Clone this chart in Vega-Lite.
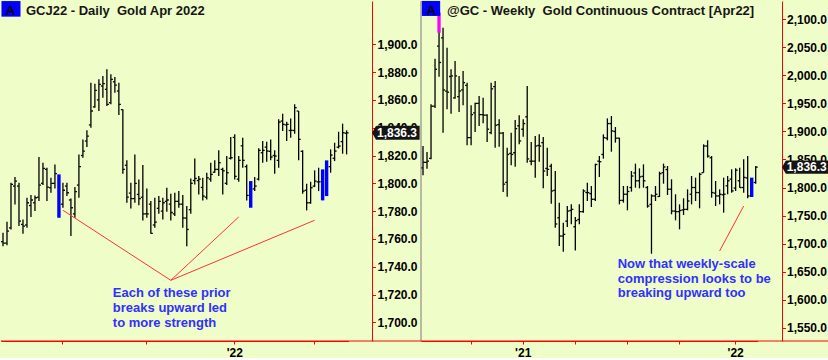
{
"$schema": "https://vega.github.io/schema/vega-lite/v6.json",
"background": "#effdc8",
"padding": 0,
"spacing": 49,
"bounds": "flush",
"config": {
  "view": {"stroke": null},
  "font": "Liberation Sans",
  "axis": {"labelFont": "Liberation Sans", "labelFontSize": 12, "labelFontWeight": "bold", "labelColor": "#000000", "domainColor": "#ff0000", "tickColor": "#ff0000", "grid": false, "domainWidth": 1, "tickWidth": 1, "labelOverlap": false}
},
"datasets": {
  "daily": [
    {"d":"2021-10-11","o":1758,"h":1764.4,"l":1754.8,"c":1757,"p":"n"},
    {"d":"2021-10-12","o":1757,"h":1772.3,"l":1755.5,"c":1765.6,"p":"n"},
    {"d":"2021-10-13","o":1768,"h":1800.4,"l":1766.8,"c":1799.2,"p":"n"},
    {"d":"2021-10-14","o":1798,"h":1804.5,"l":1784.8,"c":1801.6,"p":"n"},
    {"d":"2021-10-15","o":1798,"h":1800.4,"l":1769.2,"c":1772.8,"p":"n"},
    {"d":"2021-10-18","o":1770.4,"h":1774,"l":1763.7,"c":1769.2,"p":"n"},
    {"d":"2021-10-19","o":1770,"h":1789.6,"l":1768,"c":1786,"p":"n"},
    {"d":"2021-10-20","o":1784,"h":1791.5,"l":1775.7,"c":1788,"p":"n"},
    {"d":"2021-10-21","o":1786,"h":1791.3,"l":1780,"c":1789.6,"p":"n"},
    {"d":"2021-10-22","o":1790,"h":1818.9,"l":1787.2,"c":1798.7,"p":"n"},
    {"d":"2021-10-25","o":1800,"h":1814.8,"l":1798.7,"c":1810.7,"p":"n"},
    {"d":"2021-10-26","o":1810,"h":1811.2,"l":1787.2,"c":1797.3,"p":"n"},
    {"d":"2021-10-27","o":1796.8,"h":1804,"l":1793.2,"c":1800,"p":"n"},
    {"d":"2021-10-28","o":1800,"h":1813.6,"l":1796.3,"c":1806.9,"p":"n"},
    {"d":"2021-10-29","o":1805,"h":1806.4,"l":1775.2,"c":1778,"p":"b"},
    {"d":"2021-11-01","o":1785,"h":1800.4,"l":1782.4,"c":1795,"p":"n"},
    {"d":"2021-11-02","o":1798,"h":1800.4,"l":1790.8,"c":1793.2,"p":"n"},
    {"d":"2021-11-03","o":1788,"h":1789.1,"l":1762,"c":1782.4,"p":"n"},
    {"d":"2021-11-04","o":1778,"h":1797.3,"l":1775.2,"c":1794,"p":"n"},
    {"d":"2021-11-05","o":1798.7,"h":1820.8,"l":1789.6,"c":1812,"p":"n"},
    {"d":"2021-11-08","o":1820,"h":1831.6,"l":1818.4,"c":1823.2,"p":"n"},
    {"d":"2021-11-09","o":1830.4,"h":1838.1,"l":1826.1,"c":1834,"p":"n"},
    {"d":"2021-11-10","o":1842,"h":1872.4,"l":1840,"c":1852,"p":"n"},
    {"d":"2021-11-11","o":1855,"h":1871.7,"l":1854.4,"c":1866.9,"p":"n"},
    {"d":"2021-11-12","o":1860,"h":1874.8,"l":1852,"c":1871.2,"p":"n"},
    {"d":"2021-11-15","o":1870,"h":1877.2,"l":1861.6,"c":1871.7,"p":"n"},
    {"d":"2021-11-16","o":1867.6,"h":1882,"l":1855.6,"c":1856.8,"p":"n"},
    {"d":"2021-11-17","o":1858,"h":1878.4,"l":1856.8,"c":1874.8,"p":"n"},
    {"d":"2021-11-18","o":1873,"h":1876.5,"l":1865.2,"c":1870.7,"p":"n"},
    {"d":"2021-11-19","o":1866.4,"h":1872.4,"l":1849.1,"c":1856.8,"p":"n"},
    {"d":"2021-11-22","o":1853,"h":1853.2,"l":1806.9,"c":1810,"p":"n"},
    {"d":"2021-11-23","o":1813,"h":1816.5,"l":1786,"c":1790,"p":"n"},
    {"d":"2021-11-24","o":1793,"h":1800.4,"l":1781.9,"c":1789,"p":"n"},
    {"d":"2021-11-26","o":1789,"h":1820.8,"l":1786,"c":1800,"p":"n"},
    {"d":"2021-11-29","o":1792,"h":1802.8,"l":1784.3,"c":1789,"p":"n"},
    {"d":"2021-11-30","o":1790,"h":1813.1,"l":1773.3,"c":1778,"p":"n"},
    {"d":"2021-12-01","o":1778,"h":1796.3,"l":1775.2,"c":1778,"p":"n"},
    {"d":"2021-12-02","o":1785,"h":1787.2,"l":1763.7,"c":1764,"p":"n"},
    {"d":"2021-12-03","o":1770,"h":1789.6,"l":1768,"c":1772,"p":"n"},
    {"d":"2021-12-06","o":1782,"h":1790.8,"l":1778.1,"c":1787,"p":"n"},
    {"d":"2021-12-07","o":1780,"h":1789.6,"l":1774,"c":1786,"p":"n"},
    {"d":"2021-12-08","o":1787,"h":1796.8,"l":1779.5,"c":1788,"p":"n"},
    {"d":"2021-12-09","o":1785,"h":1792.5,"l":1773.3,"c":1779,"p":"n"},
    {"d":"2021-12-10","o":1778,"h":1793.2,"l":1776.4,"c":1787,"p":"n"},
    {"d":"2021-12-13","o":1787,"h":1794.4,"l":1782.4,"c":1785,"p":"n"},
    {"d":"2021-12-14","o":1785,"h":1791.5,"l":1768,"c":1775,"p":"n"},
    {"d":"2021-12-15","o":1775,"h":1783.6,"l":1754.8,"c":1766.8,"p":"n"},
    {"d":"2021-12-16","o":1781,"h":1803.5,"l":1778.1,"c":1800,"p":"n"},
    {"d":"2021-12-17","o":1802,"h":1817.9,"l":1799.2,"c":1803.5,"p":"n"},
    {"d":"2021-12-20","o":1802,"h":1805.2,"l":1792,"c":1803,"p":"n"},
    {"d":"2021-12-21","o":1797,"h":1804,"l":1787.7,"c":1790.8,"p":"n"},
    {"d":"2021-12-22","o":1790,"h":1807.6,"l":1788.4,"c":1804,"p":"n"},
    {"d":"2021-12-23","o":1803,"h":1814.8,"l":1801.1,"c":1806.4,"p":"n"},
    {"d":"2021-12-27","o":1808,"h":1816.5,"l":1807.6,"c":1810,"p":"n"},
    {"d":"2021-12-28","o":1810,"h":1823.7,"l":1805.2,"c":1814.8,"p":"n"},
    {"d":"2021-12-29","o":1810,"h":1811.2,"l":1792,"c":1809,"p":"n"},
    {"d":"2021-12-30","o":1800,"h":1819.6,"l":1798.7,"c":1807.6,"p":"n"},
    {"d":"2021-12-31","o":1818,"h":1833.3,"l":1817.2,"c":1818.4,"p":"n"},
    {"d":"2022-01-03","o":1833,"h":1835.2,"l":1802.8,"c":1805,"p":"n"},
    {"d":"2022-01-04","o":1803,"h":1819.6,"l":1801.1,"c":1816.5,"p":"n"},
    {"d":"2022-01-05","o":1827,"h":1832.8,"l":1811.2,"c":1816.5,"p":"n"},
    {"d":"2022-01-06","o":1812,"h":1813.6,"l":1787.7,"c":1791.3,"p":"n"},
    {"d":"2022-01-07","o":1800,"h":1801.6,"l":1782.4,"c":1784,"p":"b"},
    {"d":"2022-01-10","o":1796,"h":1804.5,"l":1794.4,"c":1798,"p":"n"},
    {"d":"2022-01-11","o":1803,"h":1825.2,"l":1802.1,"c":1823.7,"p":"n"},
    {"d":"2022-01-12","o":1822,"h":1830.4,"l":1814.8,"c":1823.7,"p":"n"},
    {"d":"2022-01-13","o":1826,"h":1829.9,"l":1815.5,"c":1823.2,"p":"n"},
    {"d":"2022-01-14","o":1823,"h":1831.6,"l":1816.5,"c":1818.9,"p":"n"},
    {"d":"2022-01-18","o":1820,"h":1823.7,"l":1806.9,"c":1819.6,"p":"n"},
    {"d":"2022-01-19","o":1816.5,"h":1846,"l":1811.2,"c":1844,"p":"n"},
    {"d":"2022-01-20","o":1844.8,"h":1850.1,"l":1837.6,"c":1842.4,"p":"n"},
    {"d":"2022-01-21","o":1842,"h":1844.3,"l":1830.4,"c":1842.4,"p":"n"},
    {"d":"2022-01-24","o":1838,"h":1846.7,"l":1832.8,"c":1838.1,"p":"n"},
    {"d":"2022-01-25","o":1838,"h":1856.8,"l":1835.7,"c":1854.4,"p":"n"},
    {"d":"2022-01-26","o":1852,"h":1852,"l":1816.5,"c":1831.6,"p":"n"},
    {"d":"2022-01-27","o":1823,"h":1823.7,"l":1792.5,"c":1794.4,"p":"n"},
    {"d":"2022-01-28","o":1795,"h":1799.7,"l":1780.5,"c":1786,"p":"n"},
    {"d":"2022-01-31","o":1786,"h":1801.1,"l":1785.3,"c":1796.8,"p":"n"},
    {"d":"2022-02-01","o":1798,"h":1809.3,"l":1797.3,"c":1801.6,"p":"n"},
    {"d":"2022-02-02","o":1801,"h":1811.2,"l":1794.4,"c":1801.1,"p":"n"},
    {"d":"2022-02-03","o":1790,"h":1810,"l":1787.7,"c":1808,"p":"b"},
    {"d":"2022-02-04","o":1792,"h":1816.5,"l":1790.8,"c":1815,"p":"b"},
    {"d":"2022-02-07","o":1812,"h":1824.4,"l":1807.6,"c":1820.3,"p":"n"},
    {"d":"2022-02-08","o":1818,"h":1829.2,"l":1816,"c":1823.2,"p":"n"},
    {"d":"2022-02-09","o":1826,"h":1837.1,"l":1825.1,"c":1826.8,"p":"n"},
    {"d":"2022-02-10","o":1830,"h":1842.9,"l":1821.3,"c":1836.4,"p":"n"},
    {"d":"2022-02-11","o":1836,"h":1838.1,"l":1820.8,"c":1836.3,"p":"n"}
  ],
  "weekly": [
    {"d":"2020-07-10","o":1835,"h":1874,"l":1821.7,"c":1845,"p":"n"},
    {"d":"2020-07-17","o":1845,"h":1863.3,"l":1833.6,"c":1847,"p":"n"},
    {"d":"2020-07-24","o":1852,"h":1948.4,"l":1850.3,"c":1945,"p":"n"},
    {"d":"2020-07-31","o":1945,"h":2029.8,"l":1942,"c":2010.8,"p":"n"},
    {"d":"2020-08-07","o":2052,"h":2089,"l":1997.7,"c":2023,"p":"n"},
    {"d":"2020-08-14","o":2067,"h":2085.1,"l":1897.8,"c":1974,"p":"n"},
    {"d":"2020-08-21","o":1972,"h":2049.4,"l":1939.4,"c":1970,"p":"n"},
    {"d":"2020-08-28","o":1998,"h":2010.8,"l":1931.7,"c":1999,"p":"n"},
    {"d":"2020-09-04","o":1960,"h":2025.6,"l":1958.5,"c":1999,"p":"n"},
    {"d":"2020-09-11","o":1962,"h":1998.9,"l":1934.7,"c":1972,"p":"n"},
    {"d":"2020-09-18","o":1974,"h":2007.8,"l":1946.6,"c":1987,"p":"n"},
    {"d":"2020-09-25","o":1982,"h":1987,"l":1875.2,"c":1889,"p":"n"},
    {"d":"2020-10-02","o":1889,"h":1946.6,"l":1875.2,"c":1930,"p":"n"},
    {"d":"2020-10-09","o":1933,"h":1951.3,"l":1899,"c":1950,"p":"n"},
    {"d":"2020-10-16","o":1950,"h":1963.2,"l":1909.7,"c":1930,"p":"n"},
    {"d":"2020-10-23","o":1930,"h":1960.2,"l":1914.5,"c":1929,"p":"n"},
    {"d":"2020-10-30","o":1929,"h":1930.5,"l":1881.2,"c":1904,"p":"n"},
    {"d":"2020-11-06","o":1898,"h":1987,"l":1894.9,"c":1976,"p":"n"},
    {"d":"2020-11-13","o":1980,"h":1990,"l":1871.1,"c":1911,"p":"n"},
    {"d":"2020-11-20","o":1912,"h":1921.6,"l":1872.9,"c":1897,"p":"n"},
    {"d":"2020-11-27","o":1897,"h":1899,"l":1792,"c":1806,"p":"n"},
    {"d":"2020-12-04","o":1809,"h":1871.1,"l":1783.7,"c":1859,"p":"n"},
    {"d":"2020-12-11","o":1861,"h":1897.8,"l":1839.6,"c":1859,"p":"n"},
    {"d":"2020-12-18","o":1862,"h":1920.4,"l":1837.2,"c":1905,"p":"n"},
    {"d":"2020-12-25","o":1910,"h":1928.7,"l":1877,"c":1883,"p":"n"},
    {"d":"2021-01-01","o":1904,"h":1921.6,"l":1890.7,"c":1914,"p":"n"},
    {"d":"2021-01-08","o":1926,"h":1981,"l":1844.3,"c":1851,"p":"n"},
    {"d":"2021-01-15","o":1847,"h":1881.2,"l":1839.6,"c":1847,"p":"n"},
    {"d":"2021-01-22","o":1847,"h":1891.9,"l":1817.6,"c":1874,"p":"n"},
    {"d":"2021-01-29","o":1875,"h":1894.8,"l":1846.1,"c":1874,"p":"n"},
    {"d":"2021-02-05","o":1880,"h":1890.1,"l":1798.5,"c":1829.4,"p":"n"},
    {"d":"2021-02-12","o":1834,"h":1871,"l":1820.5,"c":1832.4,"p":"n"},
    {"d":"2021-02-19","o":1838,"h":1842.5,"l":1771.2,"c":1793.8,"p":"n"},
    {"d":"2021-02-26","o":1795,"h":1829.4,"l":1728.4,"c":1735,"p":"n"},
    {"d":"2021-03-05","o":1746,"h":1772.9,"l":1695.7,"c":1713.5,"p":"n"},
    {"d":"2021-03-12","o":1713.5,"h":1737.3,"l":1685.6,"c":1716.5,"p":"n"},
    {"d":"2021-03-19","o":1740,"h":1767,"l":1729.6,"c":1758,"p":"n"},
    {"d":"2021-03-26","o":1759,"h":1770,"l":1734.3,"c":1761,"p":"n"},
    {"d":"2021-04-02","o":1730,"h":1747.4,"l":1687.9,"c":1741,"p":"n"},
    {"d":"2021-04-09","o":1743,"h":1770,"l":1734.3,"c":1757,"p":"n"},
    {"d":"2021-04-16","o":1757,"h":1796.7,"l":1755.1,"c":1793.8,"p":"n"},
    {"d":"2021-04-23","o":1791,"h":1808.6,"l":1775.9,"c":1791,"p":"n"},
    {"d":"2021-04-30","o":1789,"h":1802.7,"l":1765.2,"c":1779,"p":"n"},
    {"d":"2021-05-07","o":1779,"h":1842.5,"l":1775.9,"c":1841,"p":"n"},
    {"d":"2021-05-14","o":1847,"h":1856.2,"l":1818.7,"c":1846,"p":"n"},
    {"d":"2021-05-21","o":1859,"h":1894.8,"l":1851.4,"c":1889,"p":"n"},
    {"d":"2021-05-28","o":1888,"h":1923.3,"l":1884.1,"c":1914,"p":"n"},
    {"d":"2021-06-04","o":1914,"h":1927.5,"l":1863.9,"c":1901,"p":"n"},
    {"d":"2021-06-11","o":1900,"h":1907.9,"l":1880,"c":1888,"p":"n"},
    {"d":"2021-06-18","o":1888,"h":1888.9,"l":1770,"c":1777,"p":"n"},
    {"d":"2021-06-25","o":1777,"h":1802.7,"l":1773,"c":1788,"p":"n"},
    {"d":"2021-07-02","o":1788,"h":1802.7,"l":1759.3,"c":1793,"p":"n"},
    {"d":"2021-07-09","o":1800,"h":1829.4,"l":1792.6,"c":1820.5,"p":"n"},
    {"d":"2021-07-16","o":1826,"h":1842.5,"l":1799.7,"c":1812,"p":"n"},
    {"d":"2021-07-23","o":1812,"h":1834.2,"l":1798.5,"c":1819,"p":"n"},
    {"d":"2021-07-30","o":1820,"h":1841.3,"l":1799.7,"c":1812,"p":"n"},
    {"d":"2021-08-06","o":1800,"h":1802.7,"l":1764,"c":1767,"p":"n"},
    {"d":"2021-08-13","o":1770,"h":1787.8,"l":1682,"c":1785,"p":"n"},
    {"d":"2021-08-20","o":1785,"h":1802.7,"l":1776,"c":1788,"p":"n"},
    {"d":"2021-08-27","o":1784,"h":1828.3,"l":1783.1,"c":1824.7,"p":"n"},
    {"d":"2021-09-03","o":1826.5,"h":1842.6,"l":1806.9,"c":1836.6,"p":"n"},
    {"d":"2021-09-10","o":1832,"h":1838.4,"l":1786.7,"c":1797,"p":"n"},
    {"d":"2021-09-17","o":1797,"h":1814.6,"l":1752.2,"c":1758,"p":"n"},
    {"d":"2021-09-24","o":1758,"h":1787.9,"l":1741.5,"c":1757,"p":"n"},
    {"d":"2021-10-01","o":1757,"h":1770,"l":1725.4,"c":1759,"p":"n"},
    {"d":"2021-10-08","o":1760,"h":1780.7,"l":1751,"c":1761,"p":"n"},
    {"d":"2021-10-15","o":1761,"h":1796.8,"l":1759.3,"c":1776,"p":"n"},
    {"d":"2021-10-22","o":1788,"h":1820.6,"l":1770,"c":1800,"p":"n"},
    {"d":"2021-10-29","o":1800,"h":1817.6,"l":1776,"c":1791,"p":"n"},
    {"d":"2021-11-05","o":1791,"h":1826.5,"l":1762.9,"c":1823.5,"p":"n"},
    {"d":"2021-11-12","o":1826.5,"h":1877,"l":1826.5,"c":1874,"p":"n"},
    {"d":"2021-11-19","o":1874,"h":1884.2,"l":1853.3,"c":1856,"p":"n"},
    {"d":"2021-11-26","o":1853,"h":1856.2,"l":1781.9,"c":1791,"p":"n"},
    {"d":"2021-12-03","o":1790,"h":1811.6,"l":1767,"c":1785,"p":"n"},
    {"d":"2021-12-10","o":1785,"h":1796.8,"l":1770,"c":1788,"p":"n"},
    {"d":"2021-12-17","o":1787,"h":1817.6,"l":1755.2,"c":1788,"p":"n"},
    {"d":"2021-12-24","o":1803,"h":1820.6,"l":1787.9,"c":1812,"p":"n"},
    {"d":"2021-12-31","o":1815,"h":1832.5,"l":1790.8,"c":1794,"p":"n"},
    {"d":"2022-01-07","o":1799,"h":1834.2,"l":1793.8,"c":1831,"p":"n"},
    {"d":"2022-01-14","o":1812,"h":1835.4,"l":1799.8,"c":1800,"p":"n"},
    {"d":"2022-01-21","o":1800,"h":1850.3,"l":1790.8,"c":1818,"p":"n"},
    {"d":"2022-01-28","o":1817,"h":1856.2,"l":1780.7,"c":1785,"p":"n"},
    {"d":"2022-02-04","o":1785,"h":1817.6,"l":1783.1,"c":1815,"p":"b"},
    {"d":"2022-02-11","o":1809,"h":1838.4,"l":1806.9,"c":1836.3,"p":"n"}
  ],
  "annL": [
    {"d":"2021-11-01","v":1780.6,"g":"a"},{"d":"2021-12-09","v":1730.2,"g":"a"},
    {"d":"2021-12-09","v":1730.2,"g":"b"},{"d":"2022-01-04","v":1775.8,"g":"b"},
    {"d":"2021-12-09","v":1730.2,"g":"c"},{"d":"2022-02-01","v":1773.4,"g":"c"}
  ],
  "annR": [
    {"d":"2021-12-10","v":1686.8,"g":"a"},{"d":"2022-01-21","v":1767,"g":"a"}
  ],
  "txtL": [
    {"d":"2021-11-17","v":1718.2,"t":"Each of these prior"},
    {"d":"2021-11-17","v":1707.4,"t":"breaks upward led"},
    {"d":"2021-11-17","v":1696.6,"t":"to more strength"}
  ],
  "txtR": [
    {"d":"2021-06-11","v":1656.4,"t":"Now that weekly-scale"},
    {"d":"2021-06-11","v":1630.2,"t":"compression looks to be"},
    {"d":"2021-06-11","v":1604.2,"t":"breaking upward too"}
  ],
  "hdrL": [{"bd":"2021-10-13","bv":1925.5,"td":"2021-10-19","tv":1921.1,"a":"A","t":"GCJ22 - Daily\u00a0 Gold Apr 2022"}],
  "hdrR": [{"bd":"2020-07-24","bv":2119.3,"td":"2020-08-21","tv":2107.7,"a":"A","t":"@GC - Weekly\u00a0 Gold Continuous Contract [Apr22]"}],
  "lastL": [{"v":1836.3,"t":"1,836.3"}],
  "lastR": [{"v":1836.3,"t":"1,836.3"}],
  "mag": [{"d":"2020-08-07","v1":2076,"v2":2112}]
},
"hconcat": [
  {
    "width": 371,
    "height": 340,
    "layer": [
      {
        "data": {"name": "daily"},
        "transform": [{"filter": "datum.p == 'n'"}],
        "mark": {"type": "rule", "color": "#000000", "strokeWidth": 1.3},
        "encoding": {
          "x": {"field": "d", "type": "ordinal",
                "scale": {"type": "band", "paddingInner": 0, "paddingOuter": 0, "range": [0, 347.6]},
                "axis": {"title": null, "values": ["2021-11-01","2021-12-01","2022-01-03","2022-02-01"],
                         "labelExpr": "datum.value == '2022-01-03' ? \"'22\" : ''",
                         "labelAngle": 0, "tickSize": 3, "labelPadding": 3, "labelOverlap": false, "tickCount": 50}},
          "y": {"field": "h", "type": "quantitative",
                "scale": {"domain": [1686.55, 1931.15], "nice": false, "zero": false},
                "axis": {"title": null, "orient": "right", "values": [1700,1720,1740,1760,1780,1800,1820,1840,1860,1880,1900],
                         "tickCount": 50, "format": ",.1f", "tickSize": 3.5, "labelPadding": 1.5, "labelOverlap": false}},
          "y2": {"field": "l"}
        }
      },
      {
        "data": {"name": "daily"},
        "transform": [{"filter": "datum.p == 'b'"}],
        "mark": {"type": "rule", "color": "#0000ff", "strokeWidth": 3.4},
        "encoding": {
          "x": {"field": "d", "type": "ordinal"},
          "y": {"field": "h", "type": "quantitative"},
          "y2": {"field": "l"}
        }
      },
      {
        "data": {"name": "daily"},
        "transform": [{"filter": "datum.p == 'n'"}],
        "mark": {"type": "tick", "orient": "horizontal", "thickness": 1.3, "xOffset": -1.1, "color": "#000000", "opacity": 1},
        "encoding": {
          "x": {"field": "d", "type": "ordinal"},
          "y": {"field": "o", "type": "quantitative"},
          "size": {"value": 1.8}
        }
      },
      {
        "data": {"name": "daily"},
        "transform": [{"filter": "datum.p == 'n'"}],
        "mark": {"type": "tick", "orient": "horizontal", "thickness": 1.3, "xOffset": 1.1, "color": "#000000", "opacity": 1},
        "encoding": {
          "x": {"field": "d", "type": "ordinal"},
          "y": {"field": "c", "type": "quantitative"},
          "size": {"value": 1.8}
        }
      },
      {
        "data": {"values": [{"v": 1686.55}]},
        "mark": {"type": "rule", "color": "#ff0000", "strokeWidth": 1},
        "encoding": {
          "y": {"field": "v", "type": "quantitative"},
          "x": {"value": 0},
          "x2": {"value": 420}
        }
      },
      {
        "data": {"name": "annL"},
        "mark": {"type": "line", "color": "#ff3333", "strokeWidth": 1},
        "encoding": {
          "x": {"field": "d", "type": "ordinal"},
          "y": {"field": "v", "type": "quantitative"},
          "detail": {"field": "g"}
        }
      },
      {
        "data": {"name": "txtL"},
        "mark": {"type": "text", "align": "left", "baseline": "alphabetic", "fontSize": 13, "fontWeight": "bold", "color": "#3030ff", "dx": 2},
        "encoding": {
          "x": {"field": "d", "type": "ordinal"},
          "y": {"field": "v", "type": "quantitative"},
          "text": {"field": "t"}
        }
      },
      {
        "data": {"name": "hdrL"},
        "mark": {"type": "point", "shape": "M-1.22,-1L1.22,-1L1.22,1L-1.22,1Z", "filled": true, "color": "#0000ff", "opacity": 1, "strokeWidth": 0, "size": 243},
        "encoding": {
          "x": {"field": "bd", "type": "ordinal"},
          "y": {"field": "bv", "type": "quantitative"}
        }
      },
      {
        "data": {"name": "hdrL"},
        "mark": {"type": "text", "align": "center", "baseline": "alphabetic", "fontSize": 13.5, "fontWeight": "bold", "color": "#000000", "dx": -0.5},
        "encoding": {
          "x": {"field": "bd", "type": "ordinal"},
          "y": {"field": "tv", "type": "quantitative"},
          "text": {"field": "a"}
        }
      },
      {
        "data": {"name": "hdrL"},
        "mark": {"type": "text", "align": "left", "baseline": "alphabetic", "fontSize": 13, "fontWeight": "bold", "color": "#161616", "dx": -1},
        "encoding": {
          "x": {"field": "td", "type": "ordinal"},
          "y": {"field": "tv", "type": "quantitative"},
          "text": {"field": "t"}
        }
      },
      {
        "data": {"name": "lastL"},
        "mark": {"type": "point", "shape": "M0,0L0.55,-0.95Q0.6,-1,0.75,-1L6.8,-1L6.8,1L0.75,1Q0.6,1,0.55,0.95Z", "filled": true, "color": "#141414", "opacity": 1, "strokeWidth": 0, "size": 196},
        "encoding": {
          "x": {"value": "width"},
          "y": {"field": "v", "type": "quantitative"}
        }
      },
      {
        "data": {"name": "lastL"},
        "mark": {"type": "text", "align": "left", "baseline": "middle", "fontSize": 12, "fontWeight": "bold", "color": "#ffffff", "dx": 5},
        "encoding": {
          "x": {"value": "width"},
          "y": {"field": "v", "type": "quantitative"},
          "text": {"field": "t"}
        }
      }
    ]
  },
  {
    "width": 361,
    "height": 340,
    "layer": [
      {
        "data": {"name": "weekly"},
        "transform": [{"filter": "datum.p == 'n'"}],
        "mark": {"type": "rule", "color": "#000000", "strokeWidth": 1.3},
        "encoding": {
          "x": {"field": "d", "type": "ordinal",
                "scale": {"type": "band", "paddingInner": 0, "paddingOuter": 0, "range": [0, 336.7]},
                "axis": {"title": null, "values": ["2020-10-02","2021-01-01","2021-04-02","2021-07-02","2021-10-01","2022-01-07"],
                         "labelExpr": "datum.value == '2021-01-01' ? \"'21\" : (datum.value == '2022-01-07' ? \"'22\" : '')",
                         "labelAngle": 0, "tickSize": 3, "labelPadding": 3, "labelOverlap": false, "tickCount": 50}},
          "y": {"field": "h", "type": "quantitative",
                "scale": {"domain": [1526.3, 2132.6], "nice": false, "zero": false},
                "axis": {"title": null, "orient": "right", "values": [1550,1600,1650,1700,1750,1800,1850,1900,1950,2000,2050,2100],
                         "tickCount": 50, "format": ",.1f", "tickSize": 3.5, "labelPadding": 1, "labelOverlap": false}},
          "y2": {"field": "l"}
        }
      },
      {
        "data": {"name": "weekly"},
        "transform": [{"filter": "datum.p == 'b'"}],
        "mark": {"type": "rule", "color": "#0000ff", "strokeWidth": 3.4},
        "encoding": {
          "x": {"field": "d", "type": "ordinal"},
          "y": {"field": "h", "type": "quantitative"},
          "y2": {"field": "l"}
        }
      },
      {
        "data": {"name": "weekly"},
        "transform": [{"filter": "datum.p == 'n'"}],
        "mark": {"type": "tick", "orient": "horizontal", "thickness": 1.3, "xOffset": -1.1, "color": "#000000", "opacity": 1},
        "encoding": {
          "x": {"field": "d", "type": "ordinal"},
          "y": {"field": "o", "type": "quantitative"},
          "size": {"value": 1.8}
        }
      },
      {
        "data": {"name": "weekly"},
        "transform": [{"filter": "datum.p == 'n'"}],
        "mark": {"type": "tick", "orient": "horizontal", "thickness": 1.3, "xOffset": 1.1, "color": "#000000", "opacity": 1},
        "encoding": {
          "x": {"field": "d", "type": "ordinal"},
          "y": {"field": "c", "type": "quantitative"},
          "size": {"value": 1.8}
        }
      },
      {
        "data": {"name": "mag"},
        "mark": {"type": "rule", "color": "#ff00ff", "strokeWidth": 3.3},
        "encoding": {
          "x": {"field": "d", "type": "ordinal"},
          "y": {"field": "v1", "type": "quantitative"},
          "y2": {"field": "v2"}
        }
      },
      {
        "data": {"values": [{"d": "2020-07-10"}]},
        "mark": {"type": "rule", "color": "#7a7a7a", "strokeWidth": 1},
        "encoding": {
          "x": {"field": "d", "type": "ordinal", "bandPosition": 0}
        }
      },
      {
        "data": {"values": [{"v": 1526.3}]},
        "mark": {"type": "rule", "color": "#ff0000", "strokeWidth": 1},
        "encoding": {
          "y": {"field": "v", "type": "quantitative"},
          "x": {"value": 0},
          "x2": {"value": 408}
        }
      },
      {
        "data": {"name": "annR"},
        "mark": {"type": "line", "color": "#ff3333", "strokeWidth": 1},
        "encoding": {
          "x": {"field": "d", "type": "ordinal"},
          "y": {"field": "v", "type": "quantitative"},
          "detail": {"field": "g"}
        }
      },
      {
        "data": {"name": "txtR"},
        "mark": {"type": "text", "align": "left", "baseline": "alphabetic", "fontSize": 13, "fontWeight": "bold", "color": "#3030ff", "dx": 2.3},
        "encoding": {
          "x": {"field": "d", "type": "ordinal"},
          "y": {"field": "v", "type": "quantitative"},
          "text": {"field": "t"}
        }
      },
      {
        "data": {"name": "hdrR"},
        "mark": {"type": "point", "shape": "M-1.22,-1L1.22,-1L1.22,1L-1.22,1Z", "filled": true, "color": "#0000ff", "opacity": 1, "strokeWidth": 0, "size": 225},
        "encoding": {
          "x": {"field": "bd", "type": "ordinal"},
          "y": {"field": "bv", "type": "quantitative"}
        }
      },
      {
        "data": {"name": "hdrR"},
        "mark": {"type": "text", "align": "center", "baseline": "alphabetic", "fontSize": 13.5, "fontWeight": "bold", "color": "#000000"},
        "encoding": {
          "x": {"field": "bd", "type": "ordinal"},
          "y": {"field": "tv", "type": "quantitative"},
          "text": {"field": "a"}
        }
      },
      {
        "data": {"name": "hdrR"},
        "mark": {"type": "text", "align": "left", "baseline": "alphabetic", "fontSize": 13, "fontWeight": "bold", "color": "#161616"},
        "encoding": {
          "x": {"field": "td", "type": "ordinal"},
          "y": {"field": "tv", "type": "quantitative"},
          "text": {"field": "t"}
        }
      },
      {
        "data": {"name": "lastR"},
        "mark": {"type": "point", "shape": "M0,0L0.55,-0.95Q0.6,-1,0.75,-1L7,-1L7,1L0.75,1Q0.6,1,0.55,0.95Z", "filled": true, "color": "#141414", "opacity": 1, "strokeWidth": 0, "size": 180},
        "encoding": {
          "x": {"value": "width"},
          "y": {"field": "v", "type": "quantitative"}
        }
      },
      {
        "data": {"name": "lastR"},
        "mark": {"type": "text", "align": "left", "baseline": "middle", "fontSize": 12, "fontWeight": "bold", "color": "#ffffff", "dx": 4.7},
        "encoding": {
          "x": {"value": "width"},
          "y": {"field": "v", "type": "quantitative"},
          "text": {"field": "t"}
        }
      }
    ]
  }
]
}
